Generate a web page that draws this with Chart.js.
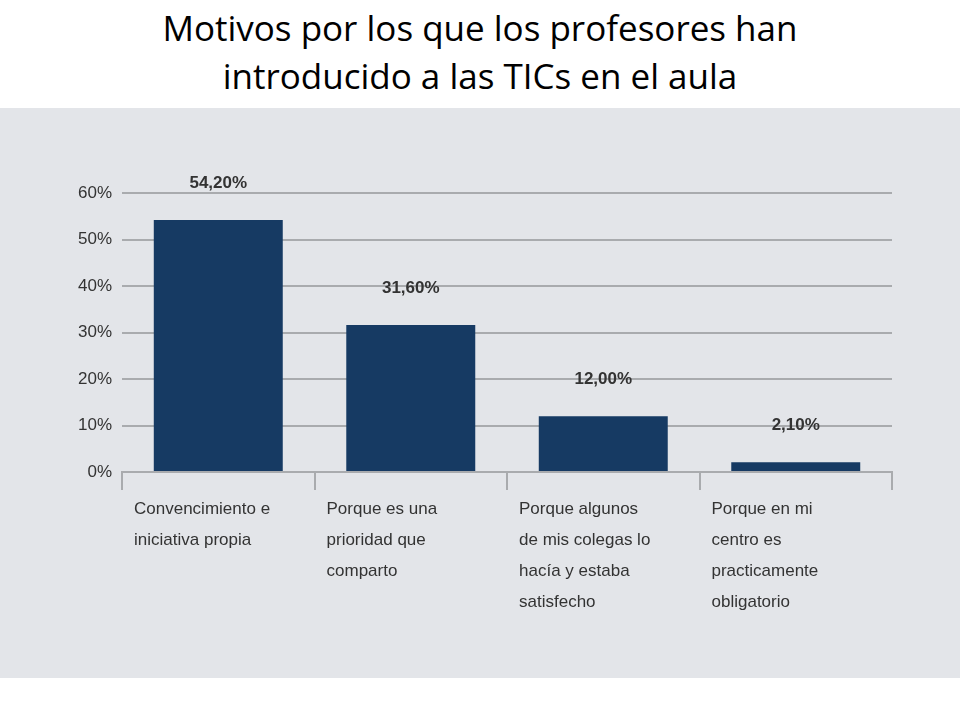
<!DOCTYPE html>
<html><head><meta charset="utf-8">
<script src="https://cdn.jsdelivr.net/npm/chart.js@4"></script>
<style>
body{margin:0;width:960px;height:720px;background:#fff;overflow:hidden}
#t{height:108px;text-align:center;font-family:'Open Sans','Noto Sans',sans-serif;font-size:35px;line-height:48px;color:#000;padding-top:4px;box-sizing:border-box}
#g{position:absolute;left:0;top:108px;width:960px;height:570px;background:#e3e5e9}
</style></head><body>
<div id="t">Motivos por los que los profesores han<br>introducido a las TICs en el aula</div>
<div id="g"><canvas id="c" width="960" height="570"></canvas></div>
<script>
const categories=[["Convencimiento e","iniciativa propia"],["Porque es una","prioridad que","comparto"],["Porque algunos","de mis colegas lo","hacía y estaba","satisfecho"],["Porque en mi","centro es","practicamente","obligatorio"]];
const values=[54.2,31.6,12.0,2.1];
const valueLabels=["54,20%","31,60%","12,00%","2,10%"];
const F="'Liberation Sans',Arial,sans-serif";
const lbl={id:'lbl',afterDatasetsDraw(ch){const c=ch.ctx,m=ch.getDatasetMeta(0),x=ch.scales.x;c.save();
c.fillStyle='#333';c.font='bold 17px '+F;c.textAlign='center';
m.data.forEach((b,i)=>c.fillText(valueLabels[i],b.x,b.y-32));
c.font='17px '+F;c.textAlign='left';c.fillStyle='#333';
categories.forEach((ls,i)=>{const w=x.width/categories.length;const lx=x.left+w*i+12;ls.forEach((l,j)=>c.fillText(l,lx,ch.chartArea.bottom+42+j*31));});
c.restore();}};
new Chart(document.getElementById('c'),{type:'bar',data:{labels:categories.map(a=>a.join(' ')),datasets:[{data:values,backgroundColor:'#163a63',barPercentage:0.67,categoryPercentage:1}]},
options:{responsive:false,animation:false,layout:{padding:{left:68,right:68,top:85,bottom:0}},
plugins:{legend:{display:false},tooltip:{enabled:false}},
scales:{y:{min:0,max:60,ticks:{stepSize:10,callback:v=>v+'%',color:'#333',font:{size:17,family:F},padding:10},grid:{color:'#a9abae',lineWidth:2,drawTicks:false},border:{display:false}},
x:{afterFit(s){s.height=206},ticks:{display:false},grid:{offset:true,drawOnChartArea:false,color:'#a9abae',lineWidth:2,tickLength:18},border:{color:'#a9abae',width:2}}}},plugins:[lbl]});
</script></body></html>
